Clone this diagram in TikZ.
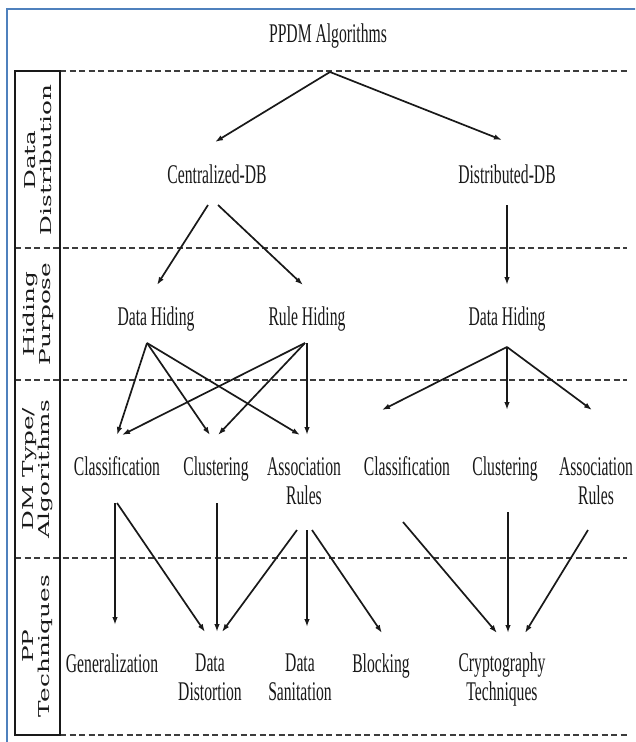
\documentclass[tikz,border=0pt]{standalone}
\usepackage{fontspec}
\setmainfont{Liberation Serif}
\newfontfamily\narrowserif[FakeStretch=0.58]{Liberation Serif}
\newfontfamily\sideserif[FakeStretch=1.65]{DejaVu Serif}
\usetikzlibrary{arrows.meta,calc}
\definecolor{framebl}{RGB}{79,129,189}
\definecolor{ink}{RGB}{25,25,25}

\begin{document}
\begin{tikzpicture}[x=1pt,y=-1pt,
  lbl/.style={font=\narrowserif\fontsize{27}{29}\selectfont, text=ink, inner sep=0pt, anchor=base, align=center},
  side/.style={font=\sideserif\fontsize{15}{16}\selectfont, text=ink, rotate=90, align=center, inner sep=0pt},
  arr/.style={draw=ink, line width=1.7pt, -{Latex[length=8pt,width=5.5pt]}},
  sep/.style={draw=ink!85, line width=2pt, dash pattern=on 6pt off 3.5pt},
]
\useasboundingbox (0,0) rectangle (635,742);
\clip (0,0) rectangle (635,742);
\fill[white] (0,0) rectangle (635,742);

% page frame
\draw[framebl, line width=2pt] (7,9) rectangle (660,770);

% layer separators
\draw[sep] (60,71) -- (627,71);
\draw[sep] (15,248) -- (627,248);
\draw[sep] (15,380) -- (627,380);
\draw[sep] (15,558) -- (627,558);
\draw[sep] (60,735) -- (627,735);

% layer title column
\draw[ink, line width=1.6pt] (15,71) rectangle (60,735);
\node[side] (tdist) at (38,160) {Data\\Distribution};
\node[side] (thide) at (38,314) {Hiding\\Purpose};
\node[side] (tdm)   at (38,469) {DM Type/\\Algorithms};
\node[side] (tpp)   at (38,646) {PP\\Techniques};

% nodes (base = baseline of the last line)
\node[lbl] (ppdm) at (328,42)  {PPDM Algorithms};
\node[lbl] (cdb)  at (217,183) {Centralized-DB};
\node[lbl] (ddb)  at (507,183) {Distributed-DB};
\node[lbl] (dh1)  at (156,325) {Data Hiding};
\node[lbl] (rh)   at (307,325) {Rule Hiding};
\node[lbl] (dh2)  at (507,325) {Data Hiding};
\node[lbl] (cl1)  at (117,475) {Classification};
\node[lbl] (cu1)  at (216,475) {Clustering};
\node[lbl] (ar1)  at (304,504) {Association\\Rules};
\node[lbl] (cl2)  at (407,475) {Classification};
\node[lbl] (cu2)  at (505,475) {Clustering};
\node[lbl] (ar2)  at (596,504) {Association\\Rules};
\node[lbl] (gen)  at (112,672) {Generalization};
\node[lbl] (dd)   at (210,700) {Data\\Distortion};
\node[lbl] (ds)   at (300,700) {Data\\Sanitation};
\node[lbl] (blk)  at (381,672) {Blocking};
\node[lbl] (ct)   at (502,700) {Cryptography\\Techniques};

% data distribution
\draw[arr] ($(ppdm.base)+(2,30)$) -- ($(cdb.base)+(-2,-41)$);
\draw[arr] ($(ppdm.base)+(2,30)$) -- ($(ddb.base)+(-5,-43)$);
% hiding purpose
\draw[arr] ($(cdb.base)+(-9,22)$) -- ($(dh1.base)+(1,-40)$);
\draw[arr] ($(cdb.base)+(1,22)$)  -- ($(rh.base)+(-4,-40)$);
\draw[arr] ($(ddb.base)+(0,22)$)  -- ($(dh2.base)+(0,-40)$);
% data mining type
\draw[arr] ($(dh1.base)+(-9,18)$) -- ($(cl1.base)+(0,-40)$);
\draw[arr] ($(dh1.base)+(-9,18)$) -- ($(cu1.base)+(-6,-40)$);
\draw[arr] ($(dh1.base)+(-9,18)$) -- ($(ar1.base)+(-4,-69)$);
\draw[arr] ($(rh.base)+(-2,18)$)  -- ($(cl1.base)+(5,-40)$);
\draw[arr] ($(rh.base)+(-2,18)$)  -- ($(cu1.base)+(2,-40)$);
\draw[arr] ($(rh.base)+(0,18)$)   -- ($(ar1.base)+(3,-69)$);
\draw[arr] ($(dh2.base)+(0,22)$)  -- ($(cl2.base)+(-25,-65)$);
\draw[arr] ($(dh2.base)+(0,22)$)  -- ($(cu2.base)+(2,-65)$);
\draw[arr] ($(dh2.base)+(0,22)$)  -- ($(ar2.base)+(-4,-94)$);
% privacy preserving techniques
\draw[arr] ($(cl1.base)+(-2,28)$) -- ($(gen.base)+(3,-47)$);
\draw[arr] ($(cl1.base)+(0,28)$)  -- ($(dd.base)+(-5,-68)$);
\draw[arr] ($(cu1.base)+(1,28)$)  -- ($(dd.base)+(7,-68)$);
\draw[arr] ($(ar1.base)+(-7,26)$) -- ($(dd.base)+(12,-68)$);
\draw[arr] ($(ar1.base)+(3,26)$)  -- ($(ds.base)+(7,-73)$);
\draw[arr] ($(ar1.base)+(8,26)$)  -- ($(blk.base)+(1,-39)$);
\draw[arr] ($(cl2.base)+(-4,47)$) -- ($(ct.base)+(-5,-67)$);
\draw[arr] ($(cu2.base)+(3,37)$)  -- ($(ct.base)+(6,-67)$);
\draw[arr] ($(ar2.base)+(-8,26)$) -- ($(ct.base)+(23,-67)$);
\end{tikzpicture}
\end{document}
